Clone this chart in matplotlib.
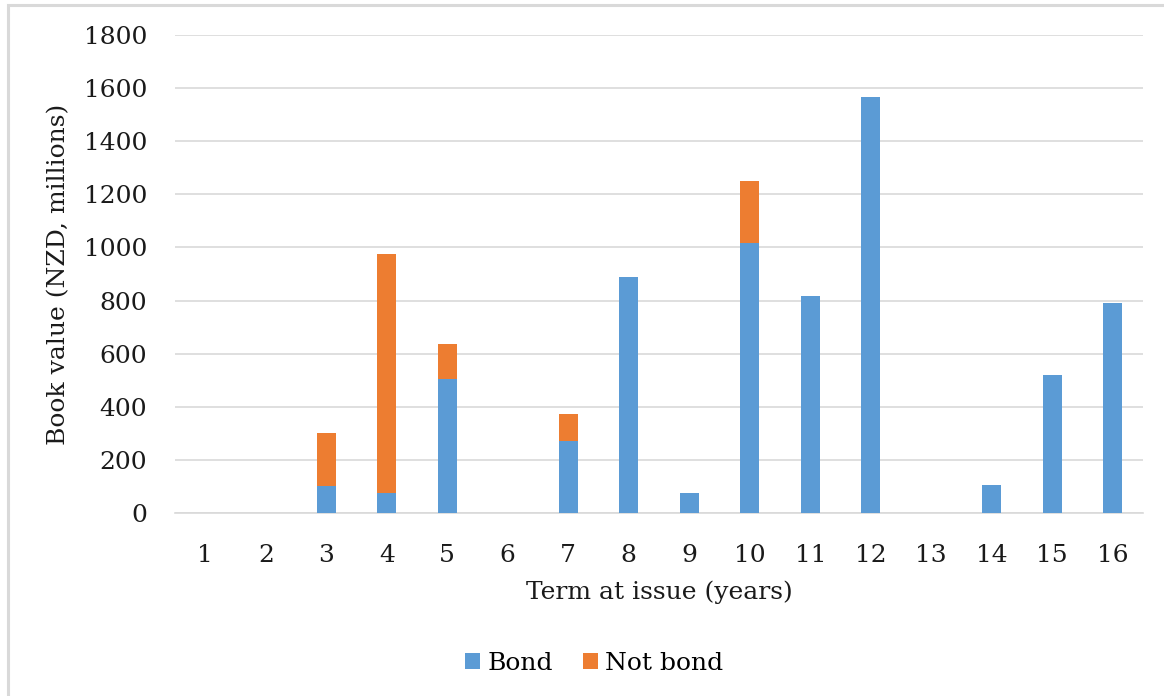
import matplotlib
matplotlib.use("Agg")
import matplotlib.pyplot as plt
from matplotlib.patches import Rectangle, Patch
import numpy as np

# term at issue (years) and book values (NZD, millions)
terms = [str(t) for t in range(1, 17)]
bond = [0, 0, 100, 75, 505, 0, 273, 888, 74, 1015, 816, 1568, 0, 104, 518, 789]
not_bond = [0, 0, 200, 900, 130, 0, 100, 0, 0, 236, 0, 0, 0, 0, 0, 0]
y_ticks = [0, 200, 400, 600, 800, 1000, 1200, 1400, 1600, 1800]

BLUE = '#5B9BD5'
ORANGE = '#ED7D31'
TXT = '#1a1a1a'
FS = 18

plt.rcParams['font.family'] = 'DejaVu Serif'

W, H = 1164, 696
fig = plt.figure(figsize=(W / 100, H / 100), dpi=100)
fig.patch.set_facecolor('white')

# faint chart-area border (only top and left visible in the crop)
fig.patches.append(Rectangle((8 / W, -0.1), 1.2, 1 - 5 / H + 0.1,
                             transform=fig.transFigure, fill=False,
                             edgecolor='#D9D9D9', linewidth=2.2))

ax = fig.add_axes([175 / W, 1 - 513 / H, 968 / W, 478 / H])

x = np.arange(len(terms))
width = 0.32
ax.bar(x, bond, width, color=BLUE, linewidth=0, label='Bond', zorder=3)
ax.bar(x, not_bond, width, bottom=bond, color=ORANGE, linewidth=0,
       label='Not bond', zorder=3)

ax.set_xlim(-0.5, len(terms) - 0.5)
ax.set_ylim(0, 1800)
ax.set_yticks(y_ticks)
ax.set_yticklabels([str(v) for v in y_ticks])
ax.set_xticks(x)
ax.set_xticklabels(terms)

ax.yaxis.grid(True, color='#D9D9D9', linewidth=1.2, zorder=0)
ax.set_axisbelow(True)
for side in ['top', 'right', 'left']:
    ax.spines[side].set_visible(False)
ax.spines['bottom'].set_color('#D9D9D9')
ax.spines['bottom'].set_linewidth(1.2)

ax.tick_params(axis='y', length=0, pad=20, labelsize=FS, labelcolor=TXT)
ax.tick_params(axis='x', length=0, pad=22, labelsize=FS, labelcolor=TXT)

ax.set_xlabel('Term at issue (years)', fontsize=FS, labelpad=10, color=TXT)
ax.set_ylabel('Book value (NZD, millions)', fontsize=FS, labelpad=10,
              color=TXT)

handles = [Patch(facecolor=BLUE, label='Bond'),
           Patch(facecolor=ORANGE, label='Not bond')]
fig.legend(handles=handles, loc='center', ncol=2, frameon=False,
           bbox_to_anchor=(594 / W, 1 - 663 / H), fontsize=FS,
           handlelength=0.6, handleheight=0.6, handletextpad=0.3,
           columnspacing=1.2)

fig.savefig('out.png', dpi=100, facecolor='white')
